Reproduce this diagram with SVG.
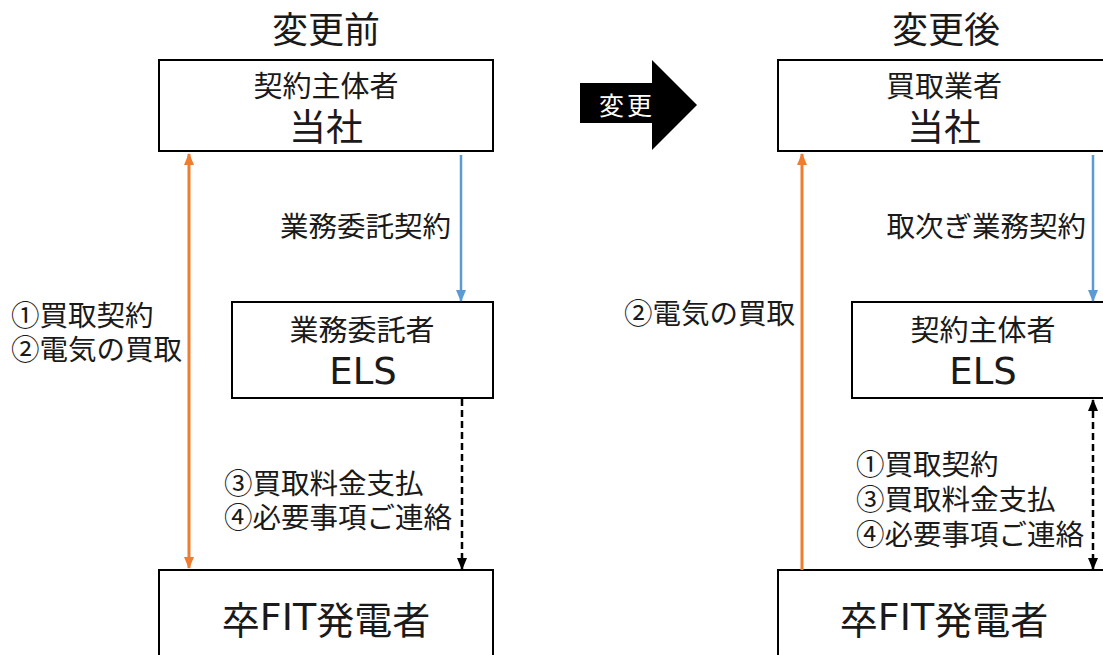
<svg xmlns="http://www.w3.org/2000/svg" width="1103" height="655" viewBox="0 0 1103 655">
<style>
  .box { fill: #ffffff; stroke: #000000; stroke-width: 2; }
  .t { font-family: "Noto Sans CJK JP", "Noto Sans", sans-serif; fill: #1a1a1a; dominant-baseline: central; }
  .lat { font-family: "DejaVu Sans", "Noto Sans CJK JP", sans-serif; }
  .title { font-size: 36px; text-anchor: middle; }
  .sub { font-size: 29px; text-anchor: middle; }
  .big { font-size: 37px; text-anchor: middle; }
  .gen { font-size: 38px; text-anchor: middle; }
  .lbl { font-size: 28.5px; }
  .orange { stroke: #ED7D31; stroke-width: 3; fill: none; }
  .blue { stroke: #5B9BD5; stroke-width: 2.5; fill: none; }
  .dash { stroke: #000000; stroke-width: 2.5; stroke-dasharray: 7 4; fill: none; }
</style>
<defs>
  <marker id="aO" markerUnits="userSpaceOnUse" markerWidth="12" markerHeight="12" refX="11" refY="6" orient="auto-start-reverse" viewBox="0 0 12 12">
    <path d="M0,1 L12,6 L0,11 Z" fill="#ED7D31"/>
  </marker>
  <marker id="aB" markerUnits="userSpaceOnUse" markerWidth="12" markerHeight="12" refX="11" refY="6" orient="auto-start-reverse" viewBox="0 0 12 12">
    <path d="M0,1 L12,6 L0,11 Z" fill="#5B9BD5"/>
  </marker>
  <marker id="aK" markerUnits="userSpaceOnUse" markerWidth="12" markerHeight="12" refX="11" refY="6" orient="auto-start-reverse" viewBox="0 0 12 12">
    <path d="M0,1 L12,6 L0,11 Z" fill="#000000"/>
  </marker>
</defs>
<rect width="1103" height="655" fill="#ffffff"/>

<text class="t title" x="326" y="27">変更前</text>
<text class="t title" x="946" y="27">変更後</text>

<g id="change-arrow">
  <polygon points="580,83 652,83 652,60 697,105 652,150 652,123 580,123" fill="#000000"/>
  <text class="t" x="627" y="104" font-size="25" text-anchor="middle" style="fill:#ffffff" letter-spacing="3">変更</text>
</g>

<g id="before-company">
  <rect class="box" x="159" y="60" width="334" height="91"/>
  <text class="t sub" x="326" y="84">契約主体者</text>
  <text class="t big" x="326" y="125">当社</text>
</g>
<g id="before-els">
  <rect class="box" x="232" y="302" width="261" height="96"/>
  <text class="t sub" x="362" y="328">業務委託者</text>
  <text class="t big lat" x="363" y="371">ELS</text>
</g>
<g id="before-generator">
  <rect class="box" x="159" y="570" width="334" height="100"/>
  <text class="t gen" x="326" y="617">卒<tspan class="lat">FIT</tspan>発電者</text>
</g>

<g id="after-company">
  <rect class="box" x="778" y="60" width="334" height="91"/>
  <text class="t sub" x="944" y="84">買取業者</text>
  <text class="t big" x="944" y="125">当社</text>
</g>
<g id="after-els">
  <rect class="box" x="852" y="302" width="261" height="96"/>
  <text class="t sub" x="983" y="328">契約主体者</text>
  <text class="t big lat" x="983" y="371">ELS</text>
</g>
<g id="after-generator">
  <rect class="box" x="778" y="570" width="334" height="100"/>
  <text class="t gen" x="944" y="617">卒<tspan class="lat">FIT</tspan>発電者</text>
</g>

<g id="connectors">
  <line class="orange" x1="189" y1="154" x2="189" y2="568" marker-start="url(#aO)" marker-end="url(#aO)"/>
  <line class="blue" x1="461" y1="155" x2="461" y2="301" marker-end="url(#aB)"/>
  <line class="dash" x1="462" y1="399" x2="462" y2="569" marker-end="url(#aK)"/>
  <line class="orange" x1="802" y1="570" x2="802" y2="154" marker-end="url(#aO)"/>
  <line class="blue" x1="1093" y1="155" x2="1093" y2="301" marker-end="url(#aB)"/>
  <line class="dash" x1="1093" y1="400" x2="1093" y2="569" marker-start="url(#aK)" marker-end="url(#aK)"/>
</g>

<g id="labels">
  <text class="t lbl" x="11" y="313">①買取契約</text>
  <text class="t lbl" x="11" y="347">②電気の買取</text>
  <text class="t lbl" x="451" y="224" text-anchor="end">業務委託契約</text>
  <text class="t lbl" x="224" y="481">③買取料金支払</text>
  <text class="t lbl" x="224" y="515">④必要事項ご連絡</text>
  <text class="t lbl" x="795" y="311" text-anchor="end">②電気の買取</text>
  <text class="t lbl" x="1086" y="224" text-anchor="end">取次ぎ業務契約</text>
  <text class="t lbl" x="856" y="462">①買取契約</text>
  <text class="t lbl" x="856" y="497">③買取料金支払</text>
  <text class="t lbl" x="856" y="532">④必要事項ご連絡</text>
</g>
</svg>
